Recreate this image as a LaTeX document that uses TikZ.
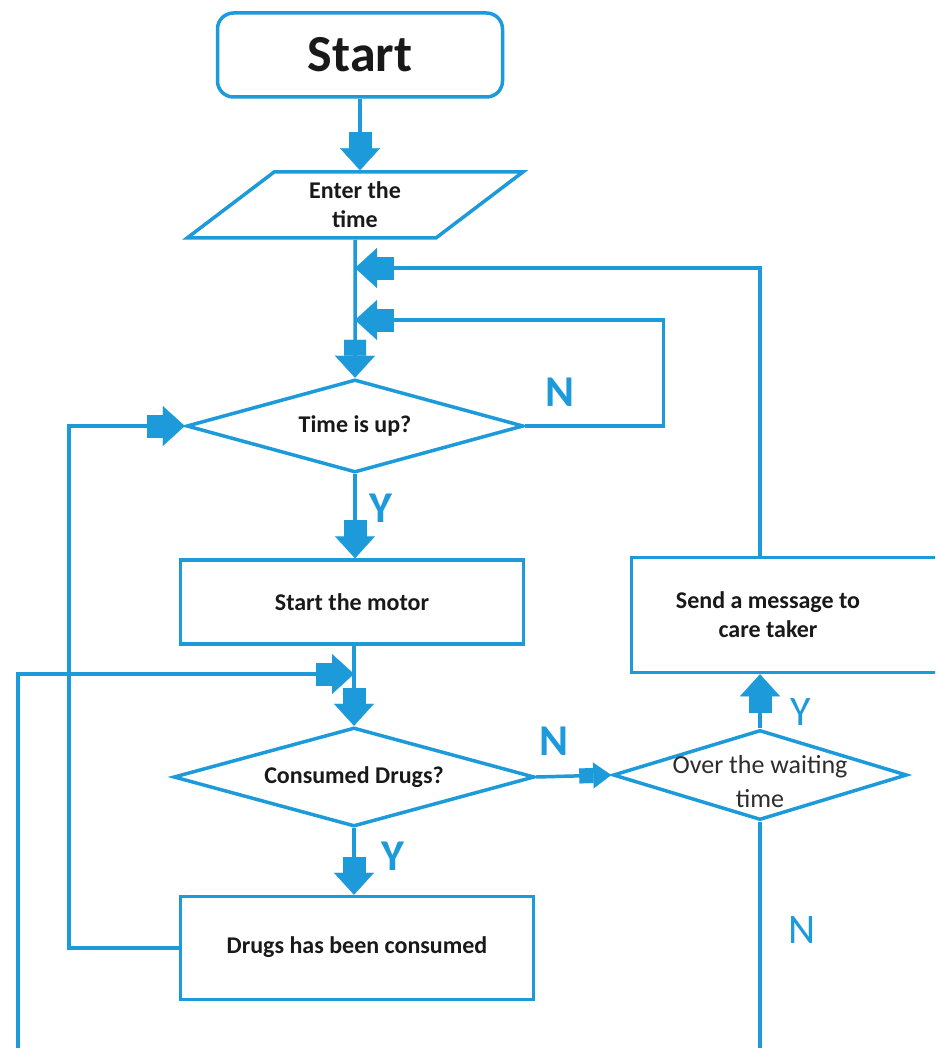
\documentclass[tikz,border=0pt]{standalone}
\usepackage{fontspec}
\setmainfont{Carlito}
\usepackage{tikz}
\usetikzlibrary{positioning, arrows.meta, shapes.geometric, calc}

\definecolor{flowblue}{RGB}{28,154,218}
\definecolor{inkgray}{RGB}{45,45,45}

\tikzset{
  box/.style={draw=flowblue, line width=3.5pt, fill=white, inner sep=0pt, align=center,
    text=black!90, font=\bfseries\fontsize{24}{29}\selectfont},
  decision/.style={box, diamond, aspect=3.5},
  link/.style={draw=flowblue, line width=3.5pt},
  fat/.style={-{Rectangle[length=16pt,width=22pt,line width=0.1pt]Triangle[length=22pt,width=40pt,line width=0.1pt]}},
  fatsmall/.style={-{Rectangle[length=14pt,width=15pt,line width=0.1pt]Triangle[length=18pt,width=26pt,line width=0.1pt]}},
  ynbold/.style={text=flowblue, font=\bfseries\fontsize{44}{44}\selectfont},
  ynthin/.style={text=flowblue, font=\fontsize{42}{42}\selectfont}
}

\begin{document}
\begin{tikzpicture}[x=1pt, y=-1pt]
  \useasboundingbox (0,0) rectangle (935,1048);
  \clip (0,0) rectangle (935,1048);

  % boxes
  \node[box, rounded corners=16pt, minimum width=285, minimum height=84,
    font=\bfseries\fontsize{52}{52}\selectfont] (start) at (360,55) {Start};
  \node[box, trapezium, trapezium left angle=43, trapezium right angle=137,
    trapezium stretches=true, minimum width=336, minimum height=66] (enter) at (355,205) {Enter the\\time};
  \node[decision, minimum width=337, minimum height=93] (time) at (355,426) {Time is up?};
  \node[box, minimum width=343, minimum height=84] (motor) at (352,602) {Start the motor};
  \node[decision, minimum width=361, minimum height=99] (drugs) at (354,777) {Consumed Drugs?};
  \node[box, minimum width=353, minimum height=103] (done) at (357,948) {\raisebox{6pt}{Drugs has been consumed}};
  \node[decision, minimum width=294, minimum height=90,
    label={[font=\fontsize{26}{34}\selectfont, text=inkgray, align=center, yshift=-7pt]center:Over the waiting\\time}] (wait) at (760,775) {};
  \node[box, minimum width=313, minimum height=115,
    label={[box, draw=none, fill=none, xshift=-20pt]center:Send a message to\\care taker}] (msg) at (788,615) {};

  % merge points on the main line
  \coordinate (j1) at (enter.south |- 0,268);
  \coordinate (j2) at (enter.south |- 0,320);
  \coordinate (j3) at (drugs.north |- 0,674);

  % connectors
  \draw[link, fat] (start.south) -- (start.south |- enter.north);
  \draw[link, fat] (enter.south) -- (time.north);
  \draw[link, fat] (msg.north -| wait.north) |- (j1);
  \draw[link, fat] (time.east) -- ++(138,0) |- (j2);
  \draw[link, fat] (time.south) -- (time.south |- motor.north);
  \draw[link, fat] (motor.south -| drugs.north) -- (drugs.north);
  \draw[link, fat] (wait.south) |- (18,1070) |- (j3);
  \draw[link, fatsmall] (drugs.east) -- (wait.west);
  \draw[link, fat] (wait.north) -- (wait.north |- msg.south);
  \draw[link, fat] (drugs.south) -- (drugs.south |- done.north);
  \draw[link, fat] (done.west) -- ++(-110,0) |- (time.west);

  % yes / no labels
  \foreach \i/\pos/\txt/\sty in {1/{(560,392)}/N/ynbold, 2/{(381,508)}/Y/ynbold,
      3/{(554,741)}/N/ynbold, 4/{(393,856)}/Y/ynbold,
      5/{(801,712)}/Y/ynthin, 6/{(802,930)}/N/ynthin}
    \node[\sty] (yn\i) at \pos {\txt};
\end{tikzpicture}
\end{document}
